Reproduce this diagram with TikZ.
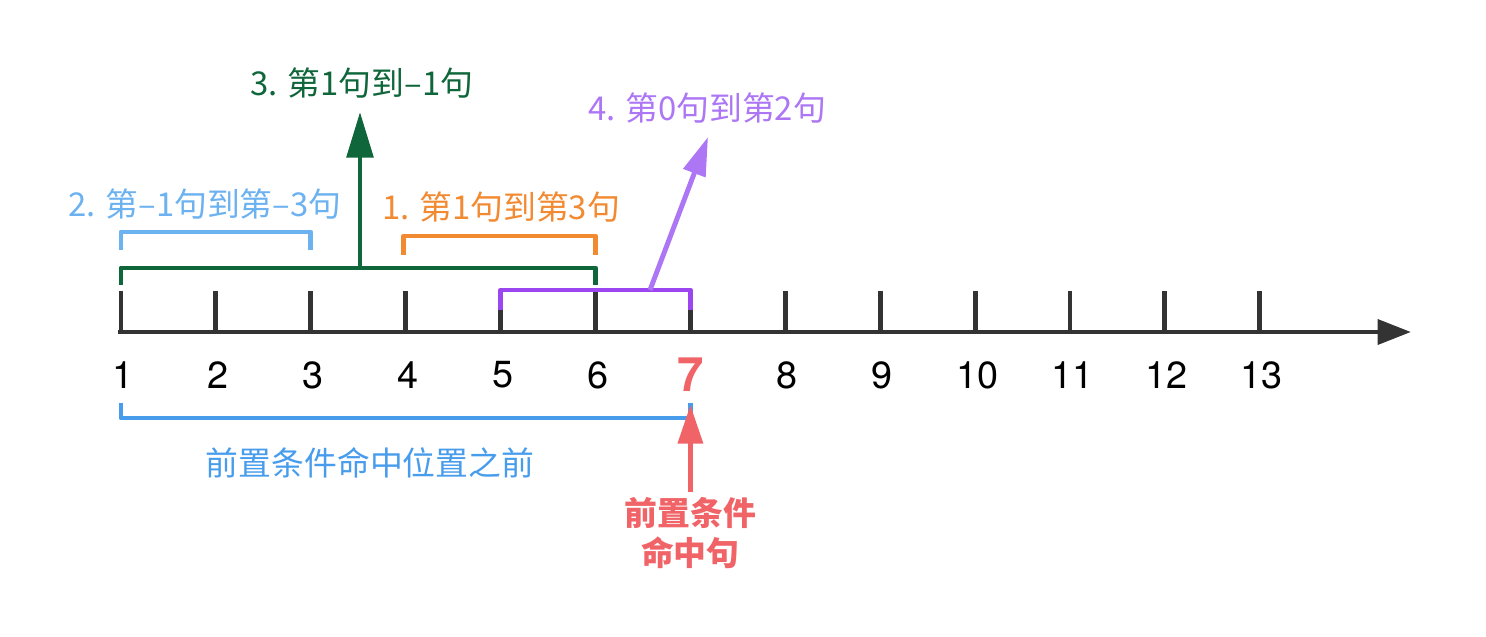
\documentclass[tikz,border=0pt]{standalone}
\usepackage{fontspec}
\setmainfont{TeX Gyre Heros}
\newfontfamily\cjk{Noto Sans CJK SC}
\usetikzlibrary{arrows.meta}

\definecolor{axisgray}{RGB}{51,51,51}
\definecolor{darkgreen}{RGB}{15,102,58}
\definecolor{skyblue}{RGB}{108,178,240}
\definecolor{lineorange}{RGB}{242,138,50}
\definecolor{vividpurple}{RGB}{155,70,240}
\definecolor{softpurple}{RGB}{172,118,245}
\definecolor{lineblue}{RGB}{72,156,236}
\definecolor{hitred}{RGB}{240,100,104}

\begin{document}
\begin{tikzpicture}[x=0.02cm, y=-0.02cm,
    tick/.style={line width=2.8pt, axisgray},
    bracket/.style={line width=2.8pt, line join=round},
    num/.style={font=\fontsize{21.5}{24}\selectfont, text=black},
    lbl/.style={font=\cjk\fontsize{18.7}{22.7}\selectfont, align=center, inner sep=0pt}]

   \useasboundingbox (0,0) rectangle (1486,636);

   \def\yb{332}; % axis
   \def\yt{291}; % tick top
   \def\yn{375}; % numbers

   \def\dx{94.9};
   \def\xa{121};

   % ticks and numbers
   \foreach \i in {1,...,13}
      \draw[tick] ({\xa + (\i-1)*\dx}, \yb) -- ({\xa + (\i-1)*\dx}, \yt);
   \foreach \i in {1,...,6,8,9,10,11,12,13}
      \node[num] (n\i) at ({\xa + (\i-1)*\dx + 2}, \yn) {\i};
   \node[num, font=\bfseries\fontsize{27}{30}\selectfont, text=hitred] (n7) at ({\xa + 6*\dx}, \yn) {7};

   \draw[line width=2.8pt, axisgray, -{Triangle[length=19pt, width=14pt]}] (\xa - 3, \yb) -- (1411, \yb);

   % 2.
   \draw[bracket, skyblue] (\xa, 250) -- (\xa, 232) -- ({\xa + 2*\dx}, 232) -- ({\xa + 2*\dx}, 250);
   \node[lbl, text=skyblue] (lb) at (205, 204) {2. 第–1句到第–3句};

   % 1.
   \draw[bracket, lineorange] ({\xa + 3*\dx - 2}, 255) -- ({\xa + 3*\dx - 2}, 236) -- ({\xa + 5*\dx}, 236) -- ({\xa + 5*\dx}, 255);
   \node[lbl, text=lineorange] (lo) at (501, 207) {1. 第1句到第3句};

   % 3.
   \draw[bracket, darkgreen] (\xa, 285) -- (\xa, 268) -- ({\xa + 5*\dx}, 268) -- ({\xa + 5*\dx}, 285);
   \coordinate (gb) at (360, 268);
   \coordinate (gt) at (360, 112);
   \draw[line width=2.8pt, darkgreen, -{Triangle[length=26pt, width=15pt]}] (gb) -- (gt);
   \node[lbl, text=darkgreen] (lg) at (362, 83) {3. 第1句到–1句};

   % 4.
   \draw[bracket, vividpurple] ({\xa + 4*\dx}, 310) -- ({\xa + 4*\dx}, 290) -- ({\xa + 6*\dx}, 290) -- ({\xa + 6*\dx}, 310);
   \coordinate (pb) at (650, 290);
   \coordinate (pt) at (708, 137);
   \draw[line width=2.8pt, softpurple, -{Triangle[length=22pt, width=13pt]}] (pb) -- (pt);
   \node[lbl, text=softpurple] (lp) at (707, 108) {4. 第0句到第2句};

   % before the hit
   \draw[bracket, lineblue] (\xa, 403) -- (\xa, 418) -- ({\xa + 6*\dx}, 418) -- ({\xa + 6*\dx}, 403);
   \node[lbl, text=lineblue] (lbot) at (370, 463) {前置条件命中位置之前};

   % hit
   \node[lbl, text=hitred, font=\cjk\bfseries\fontsize{18.7}{22.7}\selectfont] (lred) at ({\xa + 6*\dx}, 533) {前置条件\\命中句};
   \coordinate (rt) at ({\xa + 6*\dx}, 405);
   \draw[line width=2.8pt, hitred, -{Triangle[length=22pt, width=14pt]}] (lred.north) ++(0,-5) -- (rt);

  \end{tikzpicture}
\end{document}
